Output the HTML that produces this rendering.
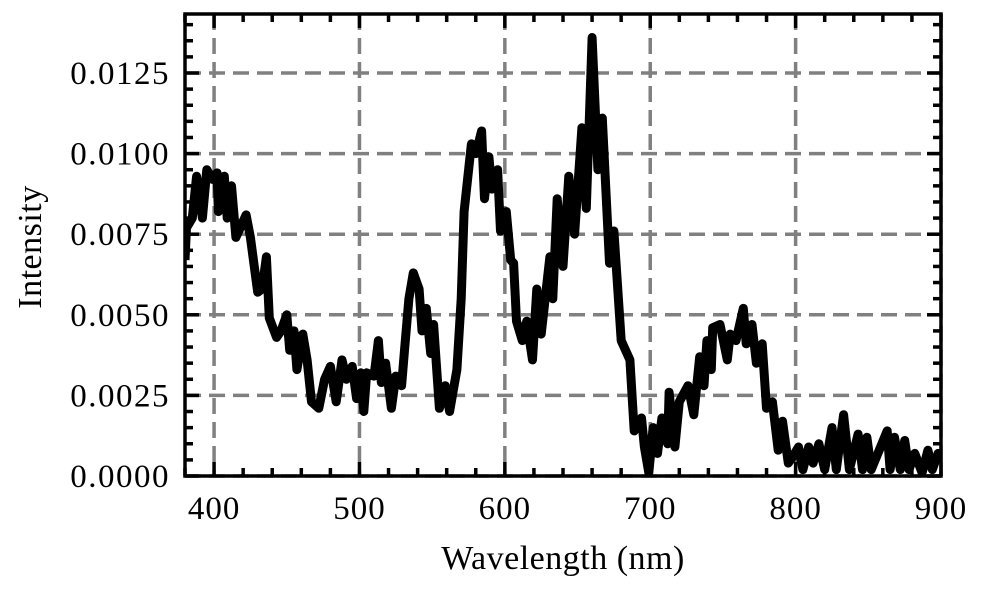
<!DOCTYPE html>
<html><head><meta charset="utf-8"><style>
body{margin:0;background:#fff;}
svg text{font-family:"Liberation Serif",serif;fill:#000;}
</style></head><body>
<svg id="chart" width="985" height="593" xmlns="http://www.w3.org/2000/svg"></svg>
<script>
const wavelengths=[380,381,385,388,392,395,399,402,403,407,409,412,415,422,425,430,433,436,438,443,446,450,452,455,457,461,464,467,472,476,480,484,488,491,495,498,501,503,505,510,513,515,518,522,525,529,531,534,537,541,543,546,549,551,555,559,562,567,570,572,577,580,584,586,589,591,595,597,601,604,606,608,612,615,619,622,625,631,633,636,640,644,648,653,656,660,664,667,672,675,680,686,689,694,696,699,702,705,708,712,713,717,720,726,730,734,737,739,742,743,748,753,755,759,764,766,770,773,777,780,784,788,791,795,798,802,805,809,812,816,820,825,828,833,837,843,846,849,852,863,865,868,872,875,878,882,887,891,894,898,900];
const intensity=[0.0067,0.0077,0.0080,0.0093,0.0080,0.0095,0.0092,0.0094,0.0082,0.0093,0.0080,0.0090,0.0074,0.0081,0.0074,0.0057,0.0058,0.0068,0.0049,0.0043,0.0045,0.0050,0.0039,0.0045,0.0033,0.0044,0.0036,0.0023,0.0021,0.0030,0.0034,0.0023,0.0036,0.0030,0.0034,0.0024,0.0032,0.0020,0.0032,0.0031,0.0042,0.0029,0.0035,0.0021,0.0031,0.0028,0.0039,0.0055,0.0063,0.0058,0.0045,0.0052,0.0038,0.0047,0.0021,0.0028,0.0020,0.0033,0.0055,0.0082,0.0103,0.0100,0.0107,0.0086,0.0099,0.0089,0.0095,0.0076,0.0082,0.0067,0.0066,0.0048,0.0042,0.0048,0.0036,0.0058,0.0044,0.0068,0.0055,0.0086,0.0065,0.0093,0.0075,0.0108,0.0083,0.0136,0.0095,0.0111,0.0066,0.0076,0.0042,0.0036,0.0014,0.0018,0.0009,0.0001,0.0015,0.0007,0.0018,0.0010,0.0026,0.0009,0.0023,0.0028,0.0019,0.0037,0.0028,0.0042,0.0033,0.0046,0.0047,0.0036,0.0044,0.0042,0.0052,0.0041,0.0047,0.0035,0.0041,0.0021,0.0023,0.0008,0.0017,0.0004,0.0006,0.0009,0.0002,0.0009,0.0004,0.0010,0.0002,0.0015,0.0002,0.0019,0.0002,0.0013,0.0002,0.0012,0.0002,0.0014,0.0002,0.0012,0.0002,0.0011,0.0002,0.0007,0.0001,0.0008,0.0002,0.0007,0.0005];
const xTicks=[400,500,600,700,800,900];
const yTicks=[0,0.0025,0.005,0.0075,0.01,0.0125];
const yTickLabels=["0.0000","0.0025","0.0050","0.0075","0.0100","0.0125"];

const L=185,R=941,T=14,B=476,XMIN=380,XMAX=900,YMIN=0,YMAX=0.01433;
const sx=v=>L+(v-XMIN)/(XMAX-XMIN)*(R-L);
const sy=v=>B-(v-YMIN)/(YMAX-YMIN)*(B-T);
const svg=document.getElementById('chart');
const NS='http://www.w3.org/2000/svg';
function mk(tag,attrs){const e=document.createElementNS(NS,tag);for(const k in attrs)e.setAttribute(k,attrs[k]);svg.appendChild(e);return e;}

xTicks.forEach(t=>{const g=mk('line',{x1:sx(t),x2:sx(t),y1:T,y2:B,stroke:'#808080','stroke-width':3.5,'stroke-dasharray':'16,8'});

});
yTicks.forEach(t=>{const g=mk('line',{x1:L,x2:R,y1:sy(t),y2:sy(t),stroke:'#808080','stroke-width':3.5,'stroke-dasharray':'16,8'});

});

let d='';wavelengths.forEach((w,i)=>{d+=(i?'L':'M')+sx(w).toFixed(1)+','+sy(intensity[i]).toFixed(1);});
const clip=mk('clipPath',{id:'c'});const cr=document.createElementNS(NS,'rect');cr.setAttribute('x',L);cr.setAttribute('y',T);cr.setAttribute('width',R-L);cr.setAttribute('height',B-T);clip.appendChild(cr);
const p=mk('path',{d:d,fill:'none',stroke:'#000','stroke-width':9,'stroke-linejoin':'round','clip-path':'url(#c)'});



for(let v=380;v<=900;v+=20){const maj=v%100===0;const len=maj?14:8;
mk('line',{x1:sx(v),x2:sx(v),y1:B,y2:B-len,stroke:'#000','stroke-width':3.5});
mk('line',{x1:sx(v),x2:sx(v),y1:T,y2:T+len,stroke:'#000','stroke-width':3.5});}
for(let i=0;i<=28;i++){const v=i*0.0005;if(v>YMAX)break;const maj=i%5===0;const len=maj?14:8;
mk('line',{x1:L,x2:L+len,y1:sy(v),y2:sy(v),stroke:'#000','stroke-width':3.5});
mk('line',{x1:R,x2:R-len,y1:sy(v),y2:sy(v),stroke:'#000','stroke-width':3.5});}

const fr=mk('rect',{x:L,y:T,width:R-L,height:B-T,fill:'none',stroke:'#000','stroke-width':3.5});



xTicks.forEach(t=>{const e=mk('text',{x:sx(t),y:519,'text-anchor':'middle','font-size':33,'letter-spacing':1});e.textContent=t;

});
yTicks.forEach((t,i)=>{const e=mk('text',{x:170,y:sy(t)+11,'text-anchor':'end','font-size':33,'letter-spacing':1.5});e.textContent=yTickLabels[i];

});
const xl=mk('text',{x:563,y:569,'text-anchor':'middle','font-size':34,'letter-spacing':0.5});xl.textContent='Wavelength (nm)';


const yl=mk('text',{x:0,y:0,'text-anchor':'middle','font-size':34,'letter-spacing':0.5,transform:'translate(41,247) rotate(-90)'});yl.textContent='Intensity';


</script>
</body></html>
